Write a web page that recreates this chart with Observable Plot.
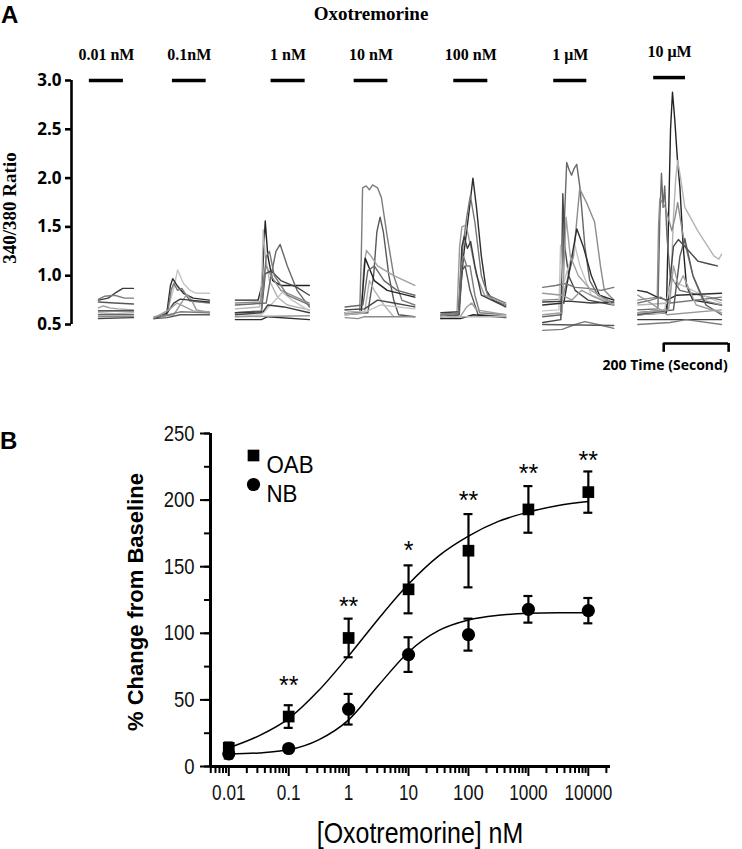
<!DOCTYPE html>
<html><head><meta charset="utf-8">
<script src="https://cdn.jsdelivr.net/npm/d3@7"></script>
<script src="https://cdn.jsdelivr.net/npm/@observablehq/plot@0.6"></script>
<style>
html,body{margin:0;padding:0;background:#fff;}
#root{position:relative;width:742px;height:849px;overflow:hidden;background:#fff;}
#root svg{position:absolute;left:0;overflow:visible;}
.lab{position:absolute;white-space:nowrap;line-height:1;color:#000;}
</style></head><body><div id="root"></div>
<script>
// ---------------- Panel A data (Fura-2 340/380 ratio traces) ----------------
const concLabels = ["0.01 nM", "0.1nM", "1 nM", "10 nM", "100 nM", "1 \u03bcM", "10 \u03bcM"];
const groupStart = [83, 255, 505, 843, 1138, 1452, 1745];   // seconds
const barStart   = [55, 311, 615, 871, 1178, 1486, 1794];   // seconds
const barEnd     = [160, 415, 720, 975, 1283, 1588, 1892];  // seconds
const barLevel   = [3.0, 3.0, 3.0, 3.0, 3.0, 3.0, 3.03];
const ratioTicks = [0.5, 1.0, 1.5, 2.0, 2.5, 3.0];
const scaleBarSec = [1825, 2025];
const scaleBarText = "200 Time (Second)";

// each trace: [time since group start (s), ratio]
const traces001 = [
  [[0,0.75],[30,0.77],[55,0.83],[75,0.87],[108,0.87]],
  [[0,0.76],[20,0.79],[50,0.80],[80,0.77],[108,0.77]],
  [[0,0.73],[50,0.72],[108,0.71]],
  [[0,0.67],[15,0.69],[35,0.67],[60,0.66],[108,0.65]],
  [[0,0.64],[108,0.64]],
  [[0,0.62],[50,0.61],[108,0.62]],
  [[0,0.60],[108,0.60]],
  [[0,0.58],[108,0.58]],
  [[0,0.56],[108,0.57]]
];
const traces01 = [
  [[0,0.58],[35,0.59],[50,0.75],[62,0.9],[72,1.06],[90,0.92],[110,0.85],[130,0.82],[170,0.82]],
  [[0,0.57],[38,0.6],[50,0.9],[57,0.97],[70,0.9],[90,0.82],[120,0.77],[170,0.75]],
  [[0,0.56],[40,0.6],[52,0.85],[60,0.92],[72,0.85],[85,0.87],[110,0.74],[170,0.72]],
  [[0,0.57],[60,0.6],[80,0.7],[100,0.81],[115,0.75],[130,0.65],[170,0.62]],
  [[0,0.56],[40,0.62],[60,0.72],[80,0.76],[110,0.75],[170,0.73]],
  [[0,0.58],[45,0.6],[80,0.63],[170,0.62]],
  [[0,0.56],[40,0.57],[80,0.6],[170,0.6]],
  [[0,0.57],[45,0.65],[70,0.72],[95,0.68],[120,0.64],[170,0.63]]
];
const traces1 = [
  [[0,0.75],[70,0.75],[82,0.9],[88,1.3],[92,1.56],[100,1.2],[115,0.95],[140,0.9],[228,0.9]],
  [[0,0.66],[75,0.68],[82,1.0],[86,1.47],[92,1.2],[105,0.95],[130,0.78],[160,0.7],[228,0.65]],
  [[0,0.7],[95,0.72],[110,1.0],[125,1.25],[138,1.32],[160,1.1],[190,0.85],[228,0.68]],
  [[0,0.72],[78,0.73],[88,1.0],[95,1.1],[110,1.0],[140,0.85],[228,0.72]],
  [[0,0.6],[80,0.62],[92,1.02],[110,1.05],[140,0.95],[190,0.88],[228,0.8]],
  [[0,0.58],[80,0.6],[115,0.72],[145,0.83],[175,0.75],[228,0.64]],
  [[0,0.55],[80,0.55],[100,0.58],[228,0.55]],
  [[0,0.62],[80,0.64],[95,1.2],[105,1.25],[120,1.0],[160,0.8],[228,0.7]],
  [[0,0.58],[228,0.59]],
  [[0,0.62],[85,0.63],[100,0.7],[150,0.68],[228,0.62]]
];
const traces10 = [
  [[0,0.62],[45,0.62],[50,1.2],[54,1.9],[65,1.92],[75,1.88],[85,1.93],[100,1.9],[112,1.8],[130,1.4],[150,1.0],[175,0.75],[215,0.7]],
  [[0,0.6],[70,0.62],[88,1.0],[98,1.45],[108,1.6],[118,1.45],[135,1.0],[150,0.75],[165,0.6],[215,0.58]],
  [[0,0.65],[50,0.66],[58,1.1],[66,1.26],[80,1.2],[100,1.1],[150,1.0],[215,0.9]],
  [[0,0.62],[50,0.63],[62,1.18],[72,1.1],[90,0.95],[130,0.85],[215,0.78]],
  [[0,0.6],[60,0.62],[75,0.95],[90,0.85],[120,0.7],[150,0.58]],
  [[0,0.68],[55,0.7],[70,1.05],[90,1.1],[120,0.95],[160,0.85],[215,0.8]],
  [[0,0.57],[40,0.56],[60,0.58],[100,0.58],[215,0.58]],
  [[0,0.65],[60,0.66],[100,0.75],[150,0.72],[215,0.68]],
  [[0,0.62],[70,0.64],[110,0.7],[215,0.66]]
];
const traces100 = [
  [[0,0.6],[55,0.62],[70,1.2],[85,1.6],[99,2.0],[110,1.7],[125,1.2],[140,0.85],[160,0.75],[200,0.7]],
  [[0,0.58],[55,0.6],[68,1.3],[80,1.6],[91,1.82],[105,1.55],[125,1.0],[145,0.8],[200,0.72]],
  [[0,0.6],[50,0.62],[58,1.3],[65,1.5],[78,1.52],[92,1.3],[110,1.0],[135,0.8],[200,0.7]],
  [[0,0.62],[55,0.63],[65,1.3],[72,1.4],[82,1.28],[92,1.35],[105,1.1],[125,0.8],[200,0.68]],
  [[0,0.6],[55,0.62],[63,1.1],[70,1.2],[80,1.1],[90,1.1],[105,0.8],[120,0.62],[200,0.6]],
  [[0,0.58],[57,0.6],[65,1.05],[75,1.1],[90,0.85],[100,0.75],[115,0.6],[200,0.58]],
  [[0,0.56],[60,0.58],[80,0.68],[95,0.72],[110,0.65],[200,0.6]],
  [[0,0.56],[60,0.56],[100,0.6],[200,0.57]],
  [[0,0.58],[200,0.58]]
];
const traces1000 = [
  [[0,0.58],[58,0.6],[66,1.5],[74,2.16],[82,2.08],[89,2.03],[97,2.1],[105,2.14],[115,1.9],[130,1.3],[145,0.95],[170,0.8],[219,0.72]],
  [[0,0.75],[60,0.76],[75,0.95],[95,1.2],[114,1.89],[135,1.75],[160,1.55],[178,1.1],[190,0.85],[219,0.75]],
  [[0,0.52],[56,0.55],[62,1.84],[68,1.3],[80,1.0],[100,0.85],[140,0.75],[219,0.7]],
  [[0,0.64],[50,0.65],[55,1.31],[62,0.9],[80,1.1],[100,1.3],[115,1.1],[150,0.8],[219,0.72]],
  [[0,0.7],[65,0.72],[85,1.1],[105,1.48],[125,1.3],[150,1.0],[175,0.8],[219,0.75]],
  [[0,0.88],[40,0.9],[70,0.92],[100,0.88],[140,0.87],[180,0.85],[219,0.88]],
  [[0,0.82],[60,0.8],[90,0.75],[120,0.85],[160,0.78],[219,0.7]],
  [[0,0.73],[80,0.74],[150,0.72],[219,0.73]],
  [[0,0.44],[60,0.45],[100,0.5],[130,0.53],[170,0.5],[219,0.46]],
  [[0,0.5],[219,0.49]],
  [[0,0.6],[60,0.62],[72,1.6],[85,1.2],[110,1.0],[150,0.85],[219,0.7]]
];
const traces10000 = [
  [[0,0.6],[88,0.62],[95,1.6],[101,2.5],[107,2.88],[114,2.6],[122,2.2],[130,1.9],[140,1.3],[150,0.9],[170,0.75],[258,0.7]],
  [[0,0.7],[100,0.72],[110,1.6],[117,2.0],[123,2.18],[132,2.0],[145,1.7],[185,1.46],[235,1.2],[250,1.17],[258,1.22]],
  [[0,0.65],[62,0.66],[68,1.6],[73,2.05],[78,1.7],[83,1.92],[90,1.4],[100,1.0],[130,0.85],[258,0.75]],
  [[0,0.75],[60,0.78],[64,1.5],[68,1.79],[85,1.7],[105,1.46],[115,1.6],[123,1.75],[140,1.4],[170,1.0],[200,0.75],[258,0.7]],
  [[0,0.62],[90,0.65],[110,1.3],[125,1.37],[145,1.3],[185,1.15],[220,1.12],[245,1.1]],
  [[0,0.6],[80,0.62],[100,0.9],[105,0.95],[150,0.88],[200,0.8],[258,0.72]],
  [[0,0.85],[30,0.83],[60,0.78],[90,0.75],[120,0.8],[258,0.82]],
  [[0,0.72],[40,0.75],[70,0.78],[100,0.72],[258,0.78]],
  [[0,0.8],[40,0.72],[70,0.65],[90,0.6],[258,0.65]],
  [[0,0.55],[258,0.55]],
  [[0,0.5],[100,0.52],[150,0.55],[258,0.5]],
  [[0,0.6],[110,0.65],[130,1.2],[145,1.38],[170,1.0],[210,0.7],[258,0.6]],
  [[0,0.62],[95,0.65],[110,1.1],[125,0.9],[140,1.0],[180,0.7],[258,0.62]]
];
const traceGroups = [traces001, traces01, traces1, traces10, traces100, traces1000, traces10000];

// ---------------- Panel B data (dose response) ----------------
const doses = [0.01, 0.1, 1, 10, 100, 1000, 10000];          // nM
const oabMean = [14, 37.5, 96.5, 133, 162, 193, 206];
const oabSem  = [4, 8.5, 14.5, 18, 27.5, 17.5, 15.5];
const nbMean  = [9.5, 13.5, 43, 84, 99, 118, 117];
const nbSem   = [3.5, 2.5, 11.5, 13, 12, 10, 9.5];
const fitDose = [0.01, 0.0316, 0.1, 0.316, 1, 3.16, 10, 31.6, 100, 316, 1000, 3162, 10000];
const oabFit  = [14, 23, 36, 57, 83, 111, 137, 158, 173, 184, 191, 196, 199];
const nbFit   = [9.5, 10.2, 12.5, 20, 35, 61, 86, 102, 110, 113.5, 115, 115.5, 115.5];
const sigLabels = ["", "**", "**", "*", "**", "**", "**"];
const sigLevel  = [0, 65, 124, 166, 204, 224, 234];
const seriesNames = ["OAB", "NB"];
const yTicksB = [0, 25, 50, 75, 100, 125, 150, 175, 200, 225, 250];
const yLabelsB = [0, 50, 100, 150, 200, 250];
const xTickLabels = ["0.01", "0.1", "1", "10", "100", "1000", "10000"];

// ---------------- build rows ----------------
const traceRows = [];
traceGroups.forEach((g, gi) => g.forEach((tr, ti) => tr.forEach(([t, v]) =>
  traceRows.push({id: `${gi}-${String(ti).padStart(2, "0")}`, time: groupStart[gi] + t, ratio: v}))));
const bars = concLabels.map((c, i) => ({c, x1: barStart[i], x2: barEnd[i], y: barLevel[i]}));
const grays = ["#3c3c3c", "#7d7d7d", "#585858", "#a0a0a0", "#222", "#b4b4b4", "#686868", "#8c8c8c", "#474747", "#c4c4c4", "#2e2e2e", "#767676", "#999"];

const root = document.getElementById("root");
const label = (text, css) => { const d = document.createElement("div"); d.className = "lab"; d.textContent = text; d.style.cssText += css; root.appendChild(d); return d; };

const A = Plot.plot({
  width: 742, height: 380, marginLeft: 71, marginRight: 9, marginTop: 80, marginBottom: 56,
  x: {domain: [0, 2040], axis: null},
  y: {domain: [0.5, 3.0], axis: null},
  color: {type: "ordinal", range: grays},
  style: {background: "transparent"},
  marks: [
    Plot.line(traceRows, {x: "time", y: "ratio", z: "id", stroke: "id", strokeWidth: 1.4, strokeLinejoin: "round"}),
    Plot.ruleX([0], {y1: ratioTicks[0], y2: ratioTicks[ratioTicks.length - 1], strokeWidth: 2.6, stroke: "#000"}),
    Plot.axisY({ticks: ratioTicks, tickFormat: d3.format(".1f"), tickSize: 6, tickPadding: 4, strokeWidth: 2.6, label: null,
      fontFamily: "'Open Sans', Lato, sans-serif", fontWeight: "bold", fontSize: 17, fill: "#000"}),
    Plot.ruleY(bars, {x1: "x1", x2: "x2", y: "y", strokeWidth: 3.5, stroke: "#000"}),
    Plot.text(bars, {x: d => (d.x1 + d.x2) / 2, y: "y", text: "c", dy: -26, fontFamily: "'Liberation Serif', 'Times New Roman', serif", fontWeight: "bold", fontSize: 16, fill: "#000"}),
    Plot.ruleY([0.305], {x1: scaleBarSec[0], x2: scaleBarSec[1], strokeWidth: 2.6, stroke: "#000"}),
    Plot.ruleX(scaleBarSec, {y1: 0.305, y2: 0.215, strokeWidth: 2.6, stroke: "#000"}),
    Plot.text([scaleBarText], {x: scaleBarSec[1], y: 0.305, dy: 22, dx: -1, text: d => d, textAnchor: "end", fontFamily: "'Open Sans', Lato, sans-serif", fontWeight: "bold", fontSize: 14, fill: "#000"})
  ]
});
A.style.top = "0px";
root.appendChild(A);

const xDomB = [Math.pow(10, -2.305), Math.pow(10, 4.37)];
const minorTicks = d3.scaleLog().domain(xDomB).ticks().filter(t => !doses.includes(t));
const pts = doses.map((d, i) => ({dose: d, oab: oabMean[i], oabLo: oabMean[i] - oabSem[i], oabHi: oabMean[i] + oabSem[i],
  nb: nbMean[i], nbLo: nbMean[i] - nbSem[i], nbHi: nbMean[i] + nbSem[i], sig: sigLabels[i], sigY: sigLevel[i]}));
const fits = fitDose.map((d, i) => ({dose: d, oab: oabFit[i], nb: nbFit[i]}));
const sans = "'Liberation Sans', Arial, sans-serif";

const B = Plot.plot({
  width: 742, height: 469, marginLeft: 210, marginRight: 132, marginTop: 53, marginBottom: 83,
  x: {type: "log", domain: xDomB, axis: null},
  y: {domain: [0, 250], axis: null},
  style: {background: "transparent"},
  marks: [
    Plot.ruleX([xDomB[0]], {y1: 0, y2: 250, strokeWidth: 3, stroke: "#000"}),
    Plot.ruleY([0], {x1: xDomB[0], x2: xDomB[1], strokeWidth: 3, stroke: "#000"}),
    Plot.axisY({ticks: yTicksB, tickSize: 6, tickFormat: () => "", strokeWidth: 2, label: null}),
    Plot.axisY({ticks: yLabelsB, tickSize: 10, tickPadding: 6, strokeWidth: 2, label: null,
      fontFamily: sans, fontSize: 22, fill: "#111"}),
    Plot.axisX({ticks: minorTicks, tickSize: 7, tickFormat: () => "", strokeWidth: 2, label: null}),
    Plot.axisX({ticks: doses, tickSize: 10, tickPadding: 8, strokeWidth: 2, label: null,
      tickFormat: (d) => xTickLabels[doses.indexOf(d)], fontFamily: sans, fontSize: 22, fill: "#111"}),
    Plot.line(fits, {x: "dose", y: "oab", curve: "monotone-x", strokeWidth: 1.5, stroke: "#000"}),
    Plot.line(fits, {x: "dose", y: "nb", curve: "monotone-x", strokeWidth: 1.5, stroke: "#000"}),
    Plot.ruleX(pts, {x: "dose", y1: "oabLo", y2: "oabHi", strokeWidth: 2.2, stroke: "#000"}),
    Plot.ruleY(pts, {y: "oabLo", x1: "dose", x2: "dose", insetLeft: -4.5, insetRight: -4.5, strokeWidth: 2.2, stroke: "#000"}),
    Plot.ruleY(pts, {y: "oabHi", x1: "dose", x2: "dose", insetLeft: -4.5, insetRight: -4.5, strokeWidth: 2.2, stroke: "#000"}),
    Plot.ruleX(pts, {x: "dose", y1: "nbLo", y2: "nbHi", strokeWidth: 2.2, stroke: "#000"}),
    Plot.ruleY(pts, {y: "nbLo", x1: "dose", x2: "dose", insetLeft: -4.5, insetRight: -4.5, strokeWidth: 2.2, stroke: "#000"}),
    Plot.ruleY(pts, {y: "nbHi", x1: "dose", x2: "dose", insetLeft: -4.5, insetRight: -4.5, strokeWidth: 2.2, stroke: "#000"}),
    Plot.dot(pts, {x: "dose", y: "nb", r: 6.6, fill: "#000", stroke: "none"}),
    Plot.dot(pts, {x: "dose", y: "oab", symbol: "square", r: 6.6, fill: "#000", stroke: "none"}),
    Plot.text(pts.filter(d => d.sig), {x: "dose", y: "sigY", text: "sig", dy: 6, fontFamily: sans, fontSize: 25, fill: "#000"}),
    Plot.dot([seriesNames[0]], {frameAnchor: "top-left", dx: 43, dy: 22, symbol: "square", r: 6.6, fill: "#000", stroke: "none"}),
    Plot.dot([seriesNames[1]], {frameAnchor: "top-left", dx: 43, dy: 51, r: 6.6, fill: "#000", stroke: "none"}),
    Plot.text([seriesNames[0]], {frameAnchor: "top-left", dx: 56, dy: 22, text: d => d, textAnchor: "start", fontFamily: sans, fontSize: 24, fill: "#000"}),
    Plot.text([seriesNames[1]], {frameAnchor: "top-left", dx: 56, dy: 51, text: d => d, textAnchor: "start", fontFamily: sans, fontSize: 24, fill: "#000"})
  ]
});
B.style.top = "380px";
root.appendChild(B);

// condense the Helvetica-Narrow-like labels of panel B
B.querySelectorAll("text").forEach(t => {
  const s = t.textContent.trim();
  let k = 1;
  if (xTickLabels.includes(s) && t.getAttribute("text-anchor") !== "end" && !(t.closest("g") && t.closest("g").getAttribute("text-anchor") === "end")) k = 0.78;
  if (yLabelsB.map(String).includes(s)) k = 0.84;
  if (seriesNames.includes(s)) k = 0.93;
  if (k !== 1) {
    const L = t.getComputedTextLength();
    if (L > 0) { t.setAttribute("textLength", (L * k).toFixed(1)); t.setAttribute("lengthAdjust", "spacingAndGlyphs"); }
  }
});

// titles and axis titles
label("A", "left:1px;top:1px;font:bold 24px 'Liberation Sans',Arial,sans-serif;");
label("B", "left:0px;top:427px;font:bold 24px 'Liberation Sans',Arial,sans-serif;");
label("Oxotremorine", "left:371px;top:3px;transform:translateX(-50%);font:bold 19px 'Liberation Serif','Times New Roman',serif;");
label("340/380 Ratio", "left:10px;top:208px;transform:translate(-50%,-50%) rotate(-90deg);font:bold 19px 'Liberation Serif','Times New Roman',serif;");
label("% Change from Baseline", "left:136px;top:602px;transform:translate(-50%,-50%) rotate(-90deg);font:bold 22px 'Liberation Sans',Arial,sans-serif;");
label("[Oxotremorine] nM", "left:420px;top:833px;transform:translate(-50%,-50%) scaleX(0.86);font:29px 'Liberation Sans',Arial,sans-serif;");
</script></body></html>
